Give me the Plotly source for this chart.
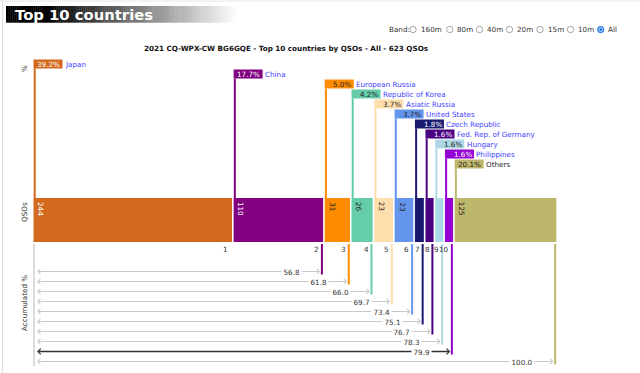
import plotly.graph_objects as go

# ---------------- data ----------------
countries = ["Japan", "China", "European Russia", "Republic of Korea", "Asiatic Russia",
             "United States", "Czech Republic", "Fed. Rep. of Germany", "Hungary",
             "Philippines", "Others"]
qsos = [244, 110, 31, 26, 23, 23, 11, 10, 10, 10, 125]
pct_labels = ["39.2%", "17.7%", "5.0%", "4.2%", "3.7%", "3.7%", "1.8%", "1.6%", "1.6%", "1.6%", "20.1%"]
accum_labels = ["56.8", "61.8", "66.0", "69.7", "73.4", "75.1", "76.7", "78.3", "79.9", "100.0"]
colors = ["#D2691E", "#800080", "#FF8C00", "#66CDAA", "#FFDEAD", "#6495ED",
          "#191970", "#4B0082", "#ADD8E6", "#9400D3", "#BDB76B"]
label_text_colors = ["white", "white", "#222", "#222", "#222", "#222",
                     "white", "white", "#222", "white", "#222"]
bands = ["160m", "80m", "40m", "20m", "15m", "10m", "All"]
selected_band = "All"
total_qsos = 623
contest = "2021 CQ-WPX-CW"
callsign = "BG6GQE"
page_title = "Top 10 countries"

# ---------------- layout constants ----------------
W, H = 640, 373
FONT = "DejaVu Sans"
FS = 7.2
S = 0.8136          # px per QSO
X0 = 33.5           # px where the first bar starts
GAP = 1.6 / S       # gap between bars in QSO units
BAR_TOP, BAR_BOT = 198, 242
BOX_Y0, BOX_STEP, BOX_H, BOX_W = 64, 10, 9, 29
ROW_Y0, ROW_STEP = 271.5, 10
NAME_COLOR = "#3d3dff"
TXT = "#333"


def du(px):
    return px / S


def xd(px):
    return (px - X0) / S


def xp(px):
    return px / W


n = len(qsos)
lefts = []
cur = 0.0
for q in qsos:
    lefts.append(cur)
    cur += q + GAP
rights = [l + q for l, q in zip(lefts, qsos)]
mids = [l + q / 2 for l, q in zip(lefts, qsos)]

fig = go.Figure()
fig.add_trace(go.Bar(
    x=mids, width=qsos, base=[BAR_BOT] * n, y=[BAR_TOP - BAR_BOT] * n,
    marker=dict(color=colors, line=dict(width=0)),
    hoverinfo="skip", showlegend=False))

shapes = []
ann = []

# page border
shapes.append(dict(type="line", xref="paper", yref="y", x0=xp(2.5), x1=xp(2.5), y0=0, y1=H,
                   line=dict(color="#dddddd", width=1)))
shapes.append(dict(type="line", xref="paper", yref="y", x0=0, x1=1, y0=1, y1=1,
                   line=dict(color="#e6e6e6", width=1)))

# banner gradient
NSTRIP = 110
bx0, bx1 = 6, 236
sw = (bx1 - bx0) / NSTRIP
for j in range(NSTRIP):
    x = bx0 + j * sw
    t = min(1.0, max(0.0, (x - 45) / (bx1 - 45)))
    g = int(round(255 * t))
    shapes.append(dict(type="rect", xref="paper", yref="y", x0=xp(x), x1=xp(x + sw + 0.3),
                       y0=6, y1=22.7, fillcolor=f"rgb({g},{g},{g})", line=dict(width=0), layer="below"))
ann.append(dict(xref="paper", yref="y", x=xp(12.5), y=14.6, xanchor="left", yanchor="middle",
                text=f"<b>{page_title}</b>", showarrow=False,
                font=dict(family=FONT, size=14.8, color="white")))

# band selector
ann.append(dict(xref="paper", yref="y", x=xp(386.5), y=29.5, xanchor="left", yanchor="middle",
                text="Band:", showarrow=False, font=dict(family=FONT, size=FS, color=TXT)))
radio_cx = [413, 449.7, 479.5, 509.5, 540, 570.5, 600.7]
for cx, b in zip(radio_cx, bands):
    r = 3.2
    if b == selected_band:
        shapes.append(dict(type="circle", xref="paper", yref="y", x0=xp(cx - r - 0.3), x1=xp(cx + r + 0.3),
                           y0=29.5 - r - 0.3, y1=29.5 + r + 0.3, fillcolor="#1a73e8", line=dict(width=0)))
        shapes.append(dict(type="circle", xref="paper", yref="y", x0=xp(cx - 2.2), x1=xp(cx + 2.2),
                           y0=29.5 - 2.2, y1=29.5 + 2.2, fillcolor="white", line=dict(width=0)))
        shapes.append(dict(type="circle", xref="paper", yref="y", x0=xp(cx - 1.5), x1=xp(cx + 1.5),
                           y0=29.5 - 1.5, y1=29.5 + 1.5, fillcolor="#1a73e8", line=dict(width=0)))
    else:
        shapes.append(dict(type="circle", xref="paper", yref="y", x0=xp(cx - r), x1=xp(cx + r),
                           y0=29.5 - r, y1=29.5 + r, fillcolor="white", line=dict(color="#8f8f8f", width=0.8)))
    ann.append(dict(xref="paper", yref="y", x=xp(cx + 5.5), y=29.5, xanchor="left", yanchor="middle",
                    text=b, showarrow=False, font=dict(family=FONT, size=FS, color=TXT)))

# chart title
ann.append(dict(xref="paper", yref="y", x=xp(286), y=48.5, xanchor="center", yanchor="middle",
                text=f"<b>{contest} {callsign} - {page_title} by QSOs - {selected_band} - {total_qsos} QSOs</b>",
                showarrow=False, font=dict(family=FONT, size=FS, color="#111")))

# axis titles
for txt, yy in [("%", 69), ("QSOs", 212), ("Accumulated %", 303)]:
    ann.append(dict(xref="paper", yref="y", x=xp(24), y=yy, xanchor="center", yanchor="middle",
                    text=txt, textangle=-90, showarrow=False, font=dict(family=FONT, size=FS, color=TXT)))

# top section: staggered labels with stems
for i in range(n):
    c = BOX_Y0 + BOX_STEP * i
    l = lefts[i]
    shapes.append(dict(type="line", xref="x", yref="y", x0=l + du(1.2), x1=l + du(1.2),
                       y0=c + BOX_H / 2, y1=BAR_TOP, line=dict(color=colors[i], width=2)))
    shapes.append(dict(type="rect", xref="x", yref="y", x0=l, x1=l + du(BOX_W),
                       y0=c - BOX_H / 2, y1=c + BOX_H / 2, fillcolor=colors[i], line=dict(width=0)))
    ann.append(dict(xref="x", yref="y", x=l + du(BOX_W - 0.3), y=c, xanchor="right", yanchor="middle",
                    text=pct_labels[i], showarrow=False,
                    font=dict(family=FONT, size=FS, color=label_text_colors[i])))
    ann.append(dict(xref="x", yref="y", x=l + du(BOX_W + 0.5), y=c, xanchor="left", yanchor="middle",
                    text=countries[i], showarrow=False,
                    font=dict(family=FONT, size=FS, color=NAME_COLOR if i < n - 1 else "#222")))

# QSO counts inside the wide bars
for i in range(n):
    if qsos[i] >= 20:
        ann.append(dict(xref="x", yref="y", x=lefts[i] + du(1), y=BAR_TOP + 2, xanchor="left", yanchor="top",
                        text=str(qsos[i]), textangle=90, showarrow=False,
                        font=dict(family=FONT, size=FS, color=label_text_colors[i])))

# rank numbers under bars
for i in range(n - 1):
    ann.append(dict(xref="x", yref="y", x=rights[i] - du(2), y=249, xanchor="right", yanchor="middle",
                    text=str(i + 1), showarrow=False, font=dict(family=FONT, size=FS, color=TXT)))

# left axis line of the accumulated block
shapes.append(dict(type="line", xref="x", yref="y", x0=xd(34), x1=xd(34), y0=244, y1=366,
                   line=dict(color="#cfcfcf", width=1.5)))

# accumulated rows
for k, lab in enumerate(accum_labels):
    i = k + 1
    y = ROW_Y0 + ROW_STEP * k
    shapes.append(dict(type="line", xref="x", yref="y", x0=rights[i] - du(1.2), x1=rights[i] - du(1.2),
                       y0=244, y1=y + 3, line=dict(color=colors[i], width=2)))
    tip = rights[i] - du(2.8)
    dark = (k == len(accum_labels) - 2)
    col = "#333333" if dark else "#c9c9c9"
    ann.append(dict(xref="x", yref="y", axref="x", ayref="y", x=tip, y=y, ax=xd(35.5), ay=y,
                    text="", showarrow=True, arrowside="end+start", arrowhead=4, startarrowhead=4,
                    arrowsize=0.85 if dark else 1, startarrowsize=0.85 if dark else 1,
                    arrowwidth=1.3 if dark else 1, arrowcolor=col,
                    standoff=0, startstandoff=0))
    ann.append(dict(xref="x", yref="y", x=tip - du(18.5), y=y, xanchor="right", yanchor="middle",
                    text=lab, showarrow=False, bgcolor="white", borderpad=1.5,
                    font=dict(family=FONT, size=FS, color=TXT)))

fig.update_layout(
    width=W, height=H, autosize=False,
    margin=dict(l=0, r=0, t=0, b=0, pad=0),
    paper_bgcolor="white", plot_bgcolor="white",
    xaxis=dict(range=[xd(0), xd(W)], visible=False, fixedrange=True),
    yaxis=dict(range=[H, 0], visible=False, fixedrange=True),
    shapes=shapes, annotations=ann, showlegend=False,
    font=dict(family=FONT, size=FS, color=TXT),
)

fig.write_html("out.html", config={"displayModeBar": False},
               post_script="document.body.style.margin='0';document.body.style.overflow='hidden';")
